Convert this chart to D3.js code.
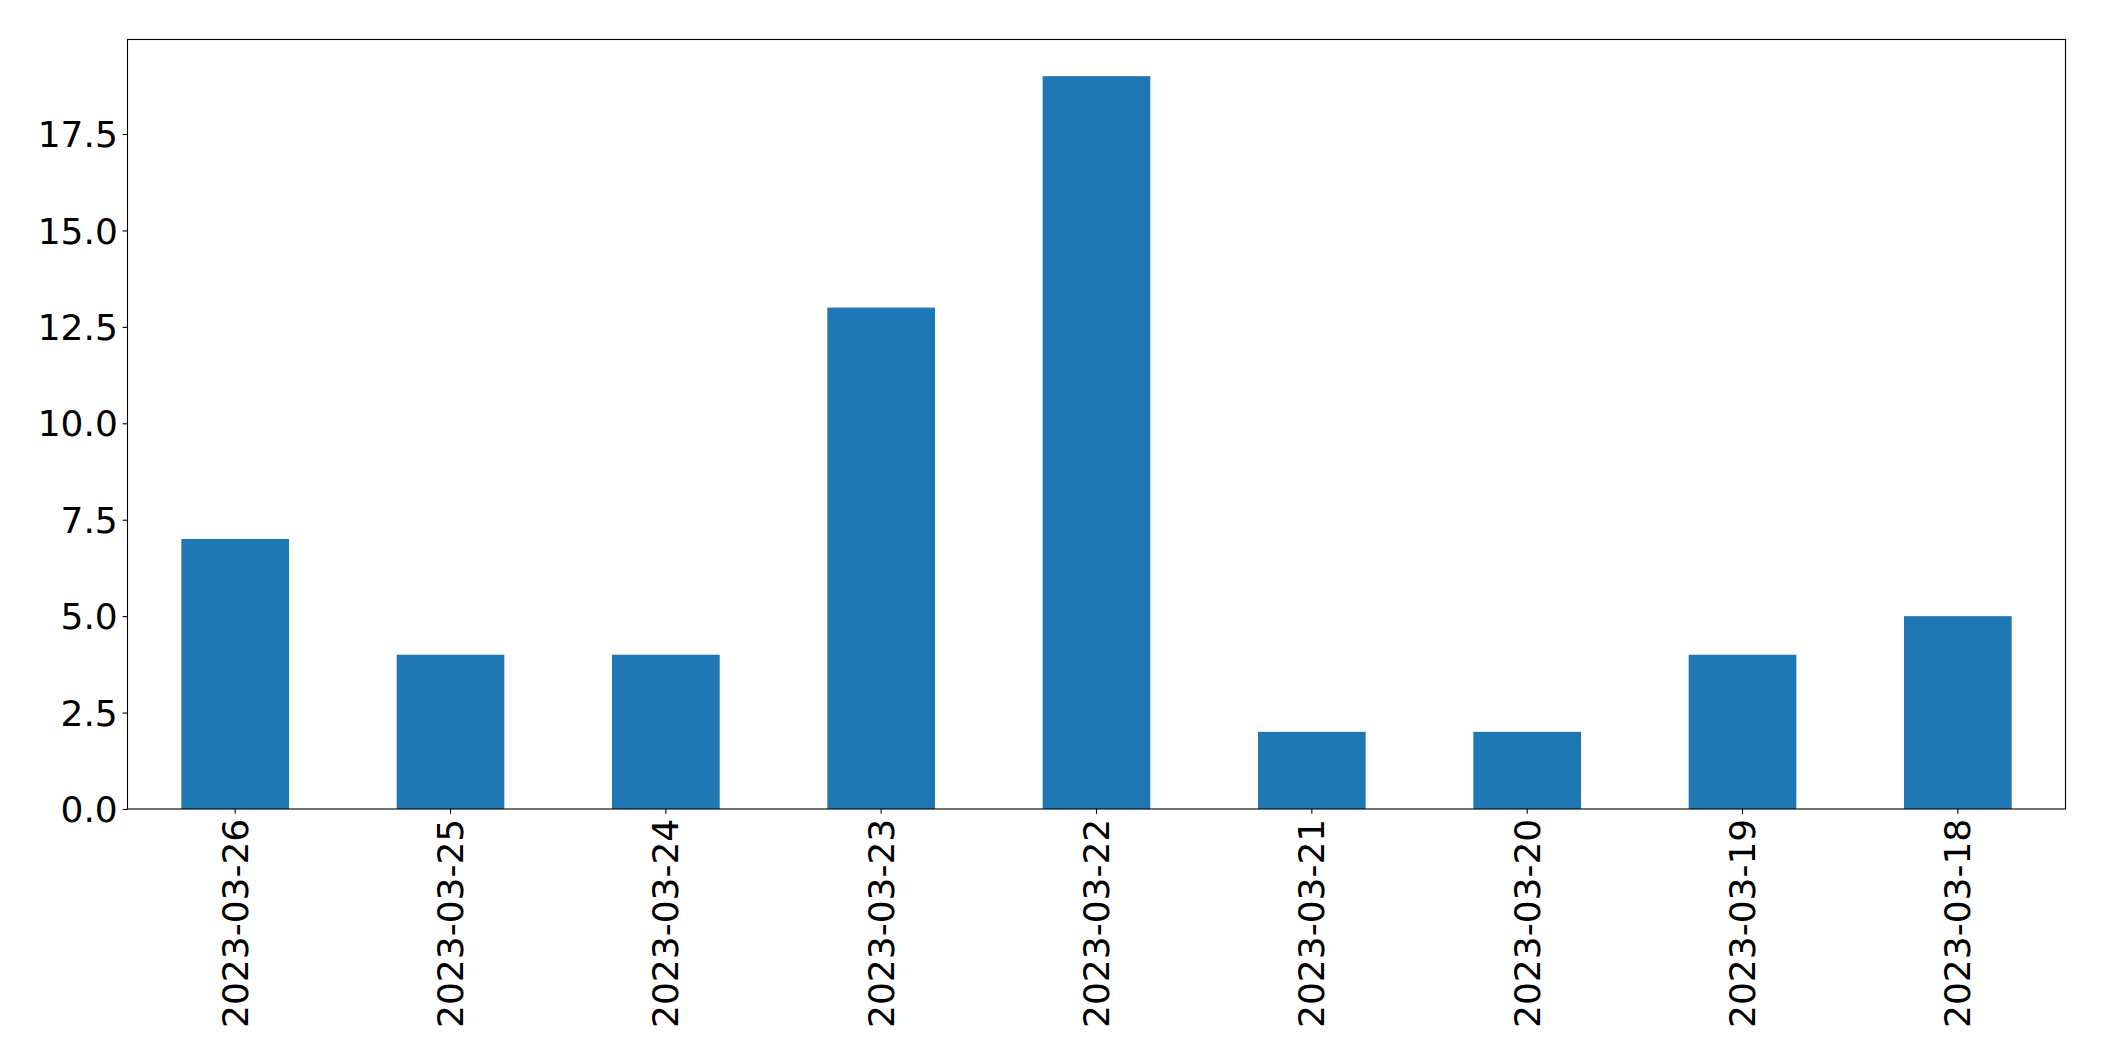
<!DOCTYPE html>
<html><head><meta charset="utf-8">
<script src="https://cdn.jsdelivr.net/npm/d3@7"></script>
<style>body{margin:0;background:#fff}svg{display:block}text{font-family:"DejaVu Sans",sans-serif}</style>
</head><body>
<script>
const categories = ["2023-03-26","2023-03-25","2023-03-24","2023-03-23","2023-03-22","2023-03-21","2023-03-20","2023-03-19","2023-03-18"];
const values = [7,4,4,13,19,2,2,4,5];
const yTicks = [0,2.5,5,7.5,10,12.5,15,17.5];

const W=2104,H=1061;
const L=127.5,R=2065.5,T=39.5,B=809;
const svg=d3.select("body").append("svg").attr("width",W).attr("height",H);
const x=d3.scaleBand().domain(categories).range([L,R]).paddingInner(0.5).paddingOuter(0.25);
const y=d3.scaleLinear().domain([0,d3.max(values)*1.05]).range([B,T]);

svg.append("g").selectAll("rect").data(values).join("rect")
  .attr("x",(d,i)=>x(categories[i])).attr("width",x.bandwidth())
  .attr("y",d=>y(d)).attr("height",d=>B-y(d)).attr("fill","#1f77b4");

const ya=svg.append("g").attr("transform",`translate(${L},0)`)
  .call(d3.axisLeft(y).tickValues(yTicks).tickFormat(d3.format(".1f")).tickSize(4.86).tickPadding(4.86));
ya.select(".domain").remove();
ya.selectAll("line").attr("stroke","#000").attr("stroke-width",1.1);
ya.selectAll("text").attr("font-size",36).attr("fill","#000").attr("dy","0.35em");

const xa=svg.append("g").attr("transform",`translate(0,${B})`)
  .call(d3.axisBottom(x).tickSize(4.86).tickPadding(4.86));
xa.select(".domain").remove();
xa.selectAll("line").attr("stroke","#000").attr("stroke-width",1.1);
xa.selectAll("text").attr("font-size",36).attr("fill","#000")
  .attr("transform","rotate(-90)").attr("text-anchor","end")
  .attr("x",-(4.86+4.86)).attr("y",0).attr("dy","0.35em");

svg.append("rect").attr("x",L).attr("y",T).attr("width",R-L).attr("height",B-T)
  .attr("fill","none").attr("stroke","#000").attr("stroke-width",1.1);
</script>
</body></html>
